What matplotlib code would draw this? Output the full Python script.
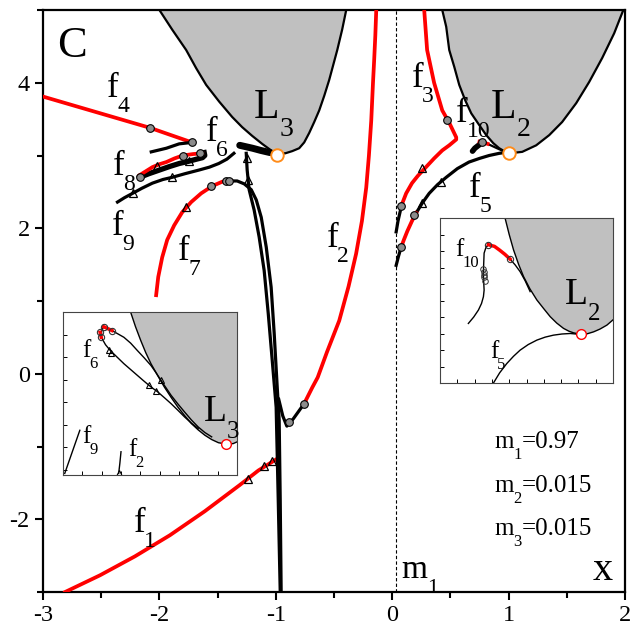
import numpy as np
import matplotlib
matplotlib.use("Agg")
import matplotlib.pyplot as plt

plt.rcParams['font.family'] = ['Liberation Serif', 'DejaVu Serif']
plt.rcParams['axes.unicode_minus'] = False

RED = '#ff0000'
GRAY = '#c0c0c0'
ORANGE = '#ff8c1a'

# ---------- forbidden regions (boundary) ----------
zvc3_x = [-2.00, -1.89, -1.77, -1.684, -1.598, -1.486, -1.375, -1.289, -1.203, -1.117, -1.04, -0.988,
          -0.919, -0.859, -0.799, -0.756, -0.713, -0.67, -0.627, -0.584, -0.541, -0.472, -0.43, -0.395]
zvc3_y = [5.00, 4.73, 4.45, 4.20, 3.97, 3.74, 3.53, 3.39, 3.27, 3.16, 3.07, 3.03,
          3.03, 3.06, 3.10, 3.18, 3.31, 3.46, 3.62, 3.82, 4.04, 4.45, 4.73, 5.00]
zvc2_x = [0.43, 0.464, 0.49, 0.533, 0.576, 0.627, 0.679, 0.747, 0.808, 0.868, 0.919, 0.962, 1.005,
          1.117, 1.237, 1.349, 1.46, 1.581, 1.692, 1.804, 1.907, 1.993]
zvc2_y = [5.00, 4.77, 4.45, 4.22, 3.97, 3.76, 3.58, 3.42, 3.28, 3.17, 3.10, 3.06, 3.03,
          3.05, 3.14, 3.28, 3.46, 3.72, 4.01, 4.34, 4.68, 5.03]
L3 = (-0.99, 3.01)
L2 = (1.005, 3.03)
m1_x = 0.03

# ---------- families ----------
f1_x = [-2.81, -2.51, -2.21, -1.91, -1.61, -1.31, -1.15, -1.00]
f1_y = [-3.00, -2.77, -2.51, -2.22, -1.89, -1.53, -1.33, -1.18]
f1_tri = ([-1.24, -1.10, -1.03], [-1.45, -1.27, -1.20])

f2_x = [-0.137, -0.145, -0.155, -0.165, -0.18, -0.20, -0.223, -0.26, -0.31, -0.375, -0.455, -0.56, -0.64, -0.687, -0.756]
f2_y = [5.00, 4.65, 4.31, 4.00, 3.48, 3.00, 2.56, 2.10, 1.65, 1.20, 0.73, 0.30, -0.05, -0.19, -0.41]
f2b_x = [-0.756, -0.85, -0.905, -0.94, -0.975]
f2b_y = [-0.41, -0.62, -0.72, -0.58, -0.35]
f2_dot = ([-0.756, -0.885], [-0.41, -0.66])

f3_x = [0.275, 0.30, 0.36, 0.43, 0.49, 0.55, 0.55, 0.49, 0.43, 0.36, 0.29, 0.22, 0.17, 0.12, 0.086, 0.077]
f3_y = [5.00, 4.45, 4.00, 3.62, 3.45, 3.25, 3.22, 3.14, 3.07, 2.96, 2.84, 2.72, 2.62, 2.48, 2.34, 2.29]
f3b_x = [0.077, 0.05, 0.034]
f3b_y = [2.29, 2.10, 1.95]
f3_dot = ([0.47, 0.077], [3.49, 2.30])
f3_tri = ([0.26], [2.83])

f4_x = [-3.00, -2.08, -1.72]
f4_y = [3.81, 3.38, 3.18]
f4_dot = ([-2.08, -1.72], [3.38, 3.18])

f5_x = [1.005, 0.92, 0.833, 0.75, 0.66, 0.56, 0.464, 0.39, 0.318, 0.26, 0.206]
f5_y = [3.05, 3.03, 3.00, 2.96, 2.91, 2.82, 2.70, 2.60, 2.48, 2.35, 2.21]
f5r_x = [0.206, 0.17, 0.13, 0.10, 0.077]
f5r_y = [2.21, 2.10, 1.96, 1.84, 1.74]
f5b_x = [0.077, 0.055, 0.034]
f5b_y = [1.74, 1.62, 1.49]
f5_dot = ([0.19, 0.077], [2.18, 1.74])
f5_tri = ([0.42, 0.26], [2.64, 2.35])

f6_x = [-2.07, -1.94, -1.83, -1.72]
f6_y = [3.05, 3.10, 3.16, 3.18]
f6n_x = [-1.31, -1.20, -1.13, -1.05]
f6n_y = [3.14, 3.10, 3.07, 3.04]

f7_x = [-2.028, -2.01, -1.976, -1.933, -1.873, -1.804, -1.727, -1.641, -1.546, -1.46, -1.383]
f7_y = [1.08, 1.33, 1.60, 1.84, 2.04, 2.22, 2.36, 2.48, 2.58, 2.64, 2.65]
f7_dot = ([-1.56, -1.43, -1.40], [2.58, 2.645, 2.65])
f7_tri = ([-1.77], [2.29])
# black continuation of f7 and the branch leaving L3
f7b_x = [-1.383, -1.332, -1.271, -1.211, -1.168, -1.125, -1.082, -1.04, -1.014, -0.988, -0.971, -0.962, -0.954]
f7b_y = [2.65, 2.65, 2.61, 2.53, 2.39, 2.15, 1.74, 1.19, 0.56, -0.18, -0.64, -1.74, -3.00]
br_x = [-1.254, -1.246, -1.229, -1.186, -1.143, -1.10, -1.065, -1.031, -0.997, -0.979, -0.962]
br_y = [3.03, 2.80, 2.53, 2.25, 1.88, 1.42, 0.83, 0.19, -0.46, -1.74, -3.00]
br_tri = ([-1.25, -1.235], [2.96, 2.66])

f8_x = [-2.17, -2.11, -2.06, -2.00, -1.94, -1.87, -1.80, -1.71, -1.63]
f8_y = [2.73, 2.79, 2.84, 2.88, 2.91, 2.96, 3.00, 3.02, 3.03]
f8b_x = [-2.17, -2.09, -2.00, -1.91, -1.83, -1.75, -1.68, -1.63, -1.61, -1.615]
f8b_y = [2.70, 2.75, 2.80, 2.85, 2.89, 2.92, 2.95, 2.97, 3.00, 3.04]
f8_dot = ([-2.17, -1.65, -1.80], [2.71, 3.03, 3.00])
f8_tri = ([-2.02, -1.75], [2.86, 2.92])

f9_x = [-2.36, -2.30, -2.23, -2.15, -2.06, -1.97, -1.89, -1.78, -1.66, -1.57, -1.49, -1.42, -1.36]
f9_y = [2.36, 2.42, 2.48, 2.55, 2.62, 2.67, 2.70, 2.75, 2.80, 2.84, 2.89, 2.95, 3.03]
f9_tri = ([-2.23, -1.89], [2.48, 2.70])

f10_x = [0.75, 0.78, 0.82]
f10_y = [3.19, 3.18, 3.16]
f10b_x = [0.75, 0.71, 0.69]
f10b_y = [3.15, 3.10, 3.06]
f10t_x = [0.82, 0.90, 0.97]
f10t_y = [3.16, 3.10, 3.05]
f10_dot = ([0.77], [3.18])

# ---------- inset 1 (around L3), arbitrary units ----------
a_zvc_x = [3.50, 3.75, 4.02, 4.28, 4.55, 4.90, 5.24, 5.59, 5.94, 6.29, 6.64, 6.99, 7.34, 7.69, 8.04, 8.44, 8.80, 9.09]
a_zvc_y = [6.99, 6.35, 5.74, 5.20, 4.71, 4.18, 3.68, 3.22, 2.79, 2.41, 2.06, 1.78, 1.54, 1.35, 1.21, 1.15, 1.17, 1.28]
a_out_x = [2.10, 2.30, 2.53, 2.80, 3.15, 3.50, 3.85, 4.20, 4.55, 4.82, 5.07, 5.33, 5.59, 5.94, 6.29, 6.64, 6.99, 7.34, 7.69]
a_out_y = [6.35, 6.28, 6.18, 6.05, 5.88, 5.62, 5.29, 4.97, 4.63, 4.30, 3.97, 3.64, 3.31, 2.93, 2.57, 2.22, 1.91, 1.66, 1.47]
a_in_x = [2.10, 2.00, 1.98, 2.20, 2.45, 2.80, 3.15, 3.50, 3.85, 4.20, 4.55, 4.90, 5.25, 5.59, 5.94, 6.29, 6.64, 6.99]
a_in_y = [6.35, 6.15, 5.88, 5.55, 5.29, 5.00, 4.71, 4.45, 4.19, 3.93, 3.68, 3.46, 3.20, 2.94, 2.65, 2.35, 2.08, 1.84]
a_red_x = [2.10, 2.35, 2.53]
a_red_y = [6.35, 6.25, 6.18]
a_red2_x = [1.92, 1.98]
a_red2_y = [6.10, 5.88]
a_dot = ([2.10, 2.53, 1.92, 1.98], [6.35, 6.18, 6.10, 5.88])
a_tri = ([2.40, 2.50, 4.45, 4.80, 5.07], [5.33, 5.20, 3.76, 3.50, 3.97])
a_f9_x = [0.09, 0.87]
a_f9_y = [-0.15, 1.76]
a_f2_x = [2.88, 2.94, 3.00]
a_f2_y = [-0.15, 0.29, 0.81]
a_L3 = (8.44, 1.15)

# ---------- inset 2 (around L2), arbitrary units ----------
b_zvc_x = [3.76, 4.00, 4.25, 4.54, 4.83, 5.20, 5.60, 6.00, 6.37, 6.75, 7.14, 7.45, 7.72, 8.17, 8.50, 8.88, 9.25, 9.65, 10.3]
b_zvc_y = [10.0, 9.00, 8.07, 7.20, 6.45, 5.70, 5.03, 4.50, 4.02, 3.63, 3.31, 3.14, 3.04, 2.94, 2.98, 3.10, 3.27, 3.51, 4.10]
b_f5_x = [3.09, 3.45, 3.86, 4.25, 4.63, 5.10, 5.60, 6.08, 6.56, 7.05, 7.53, 8.17]
b_f5_y = [0.00, 0.62, 1.18, 1.62, 1.99, 2.33, 2.60, 2.78, 2.90, 2.97, 3.00, 2.94]
b_f10_x = [1.64, 1.95, 2.22, 2.40, 2.51, 2.55, 2.53, 2.51, 2.52, 2.55, 2.65, 2.80]
b_f10_y = [3.61, 4.00, 4.42, 4.82, 5.23, 5.63, 6.04, 6.55, 7.06, 7.87, 8.20, 8.38]
b_red_x = [2.80, 3.15, 3.45, 3.75, 4.05]
b_red_y = [8.38, 8.28, 8.05, 7.80, 7.51]
b_tail_x = [4.05, 4.35, 4.63, 4.92, 5.21]
b_tail_y = [7.51, 7.15, 6.75, 6.20, 5.54]
b_dot = ([2.80, 4.05], [8.38, 7.51])
b_stack = ([2.51, 2.53, 2.55, 2.57, 2.60], [6.90, 6.70, 6.55, 6.40, 6.20])
b_L2 = (8.17, 2.94)


def label(ax, x, y, main, sub, size, subsize, dx=0, rest=None, **kw):
    t = ax.text(x, y, main, fontsize=size, va='baseline', ha='left', zorder=6, **kw)
    s = ax.annotate(sub, xy=(1, y), xycoords=(t, 'data'), xytext=(dx, -0.43 * size),
                    textcoords='offset points', fontsize=subsize, va='baseline', ha='left', zorder=6)
    if rest:
        ax.annotate(rest, xy=(1, y), xycoords=(s, 'data'), xytext=(0, 0),
                    textcoords='offset points', fontsize=size, va='baseline', ha='left', zorder=6)


def marks(ax, pts, kind, ms=5.5):
    if kind == 'o':
        ax.plot(pts[0], pts[1], 'o', ms=ms, mfc='#8c8c8c', mec='black', mew=0.8, zorder=5)
    else:
        ax.plot(pts[0], pts[1], '^', ms=ms, mfc='none', mec='black', mew=0.9, zorder=5)


fig = plt.figure(figsize=(6.3, 6.36), dpi=100)
ax = fig.add_axes([43 / 630, 44 / 636, 582 / 630, 582 / 636])
ax.set_xlim(-3, 2)
ax.set_ylim(-3, 5)

for bx, by in [(zvc3_x, zvc3_y), (zvc2_x, zvc2_y)]:
    ax.fill(bx, by, color=GRAY, lw=0, zorder=1)
    ax.plot(bx, by, color='black', lw=1.6, zorder=2)
ax.axvline(m1_x, color='black', lw=0.8, ls=(0, (3, 2)), zorder=1)

lw_r, lw_k = 2.7, 2.3
ax.plot(f1_x, f1_y, color=RED, lw=lw_r, zorder=3)
ax.plot(f2_x, f2_y, color=RED, lw=lw_r, zorder=3)
ax.plot(f2b_x, f2b_y, color='black', lw=lw_k, zorder=3)
ax.plot(f3_x, f3_y, color=RED, lw=lw_r, zorder=3)
ax.plot(f3b_x, f3b_y, color='black', lw=lw_k, zorder=3)
ax.plot(f4_x, f4_y, color=RED, lw=lw_r, zorder=3)
ax.plot(f5_x, f5_y, color='black', lw=lw_k, zorder=3)
ax.plot(f5r_x, f5r_y, color=RED, lw=lw_r, zorder=3)
ax.plot(f5b_x, f5b_y, color='black', lw=lw_k, zorder=3)
ax.plot(f6_x, f6_y, color='black', lw=lw_k, zorder=3)
ax.plot(f6n_x, f6n_y, color='black', lw=5, solid_capstyle='round', zorder=3)
ax.plot(f7b_x, f7b_y, color='black', lw=lw_k, zorder=3)
ax.plot(br_x, br_y, color='black', lw=lw_k, zorder=3)
ax.plot(f7_x, f7_y, color=RED, lw=lw_r, zorder=3)
ax.plot(f8b_x, f8b_y, color='black', lw=lw_k + 1.5, zorder=3)
ax.plot(f8_x, f8_y, color=RED, lw=lw_r, zorder=3)
ax.plot(f9_x, f9_y, color='black', lw=lw_k, zorder=3)
ax.plot(f10t_x, f10t_y, color='black', lw=1.6, zorder=3)
ax.plot(f10b_x, f10b_y, color='black', lw=4, solid_capstyle='round', zorder=3)
ax.plot(f10_x, f10_y, color=RED, lw=lw_r, zorder=3)

for p in [f2_dot, f3_dot, f4_dot, f5_dot, f7_dot, f8_dot, f10_dot]:
    marks(ax, p, 'o')
for p in [f1_tri, f3_tri, f5_tri, f7_tri, f8_tri, f9_tri, br_tri]:
    marks(ax, p, '^')

for p in [L3, L2]:
    ax.plot(*p, 'o', ms=9, mfc='white', mec=ORANGE, mew=1.4, zorder=6)

# labels
ax.text(-2.88, 4.35, 'C', fontsize=32, va='baseline', zorder=6)
label(ax, -1.19, 3.51, 'L', '3', 30, 20)
label(ax, 0.85, 3.51, 'L', '2', 30, 20)
label(ax, -2.22, -2.17, 'f', '1', 25, 17, dx=-1)
label(ax, -0.56, 1.74, 'f', '2', 25, 17, dx=-1)
label(ax, 0.17, 3.94, 'f', '3', 25, 17, dx=-1)
label(ax, -2.45, 3.80, 'f', '4', 25, 17, dx=-1)
label(ax, 0.66, 2.43, 'f', '5', 25, 17, dx=-1)
label(ax, -1.60, 3.20, 'f', '6', 25, 17, dx=-1)
label(ax, -1.84, 1.56, 'f', '7', 25, 17, dx=-1)
label(ax, -2.40, 2.73, 'f', '8', 25, 17, dx=-1)
label(ax, -2.41, 1.91, 'f', '9', 25, 17, dx=-1)
label(ax, 0.55, 3.46, 'f', '10', 25, 17, dx=-1)
label(ax, 0.077, -2.81, 'm', '1', 24, 16)
ax.text(1.72, -2.84, 'x', fontsize=29, va='baseline', zorder=6)
label(ax, 0.876, -1.02, 'm', '1', 18, 12, rest='=0.97')
label(ax, 0.876, -1.63, 'm', '2', 18, 12, rest='=0.015')
label(ax, 0.876, -2.22, 'm', '3', 18, 12, rest='=0.015')

ax.set_xticks(np.arange(-3, 2.1, 1))
ax.set_xticks(np.arange(-3, 2.1, 0.5), minor=True)
ax.set_yticks([-2, 0, 2, 4])
ax.set_yticks(np.arange(-3, 5.1, 1), minor=True)
ax.tick_params(which='both', direction='out', width=1.5, labelsize=17.5, top=False, right=False)
ax.tick_params(which='major', length=6)
ax.tick_params(which='minor', length=4)
for s in ax.spines.values():
    s.set_linewidth(1.6)

# ---------- inset 1 ----------
ia = fig.add_axes([63 / 630, (636 - 475) / 636, 174 / 630, 163 / 636], zorder=4)
ia.set_xlim(0, 9)
ia.set_ylim(-0.22, 7.0)
ia.fill(a_zvc_x + [9.2, 9.2], a_zvc_y + [7.2, 7.2], color=GRAY, lw=0)
ia.plot(a_zvc_x, a_zvc_y, color='black', lw=1.0)
ia.plot(a_out_x, a_out_y, color='black', lw=1.0)
ia.plot(a_in_x, a_in_y, color='black', lw=1.0)
ia.plot(a_red_x, a_red_y, color=RED, lw=2.5)
ia.plot(a_red2_x, a_red2_y, color=RED, lw=2.5)
ia.plot(a_f9_x, a_f9_y, color='black', lw=1.0)
ia.plot(a_f2_x, a_f2_y, color='black', lw=1.0)
ia.plot(a_dot[0], a_dot[1], 'o', ms=4.5, mfc='none', mec='#333333', mew=0.8)
ia.plot(a_tri[0], a_tri[1], '^', ms=5, mfc='none', mec='black', mew=0.8)
ia.plot([2.88], [-0.12], '^', ms=4, mfc='none', mec='black', mew=0.8)
ia.plot(*a_L3, 'o', ms=7, mfc='white', mec=RED, mew=1.0)
label(ia, 1.0, 5.0, 'f', '6', 18, 12, dx=-1)
label(ia, 7.3, 2.15, 'L', '3', 27, 18)
label(ia, 1.0, 1.18, 'f', '9', 18, 12, dx=-1)
label(ia, 3.35, 0.6, 'f', '2', 18, 12, dx=-1)
ia.set_xticks(np.arange(0, 9.1, 1))
ia.set_yticks(np.arange(0, 7.1, 1))
ia.tick_params(direction='in', length=3, width=0.7, labelbottom=False, labelleft=False)
for s in ia.spines.values():
    s.set_linewidth(0.8)
    s.set_color('#444444')

# ---------- inset 2 ----------
ib = fig.add_axes([440 / 630, (636 - 383) / 636, 173 / 630, 165 / 636], zorder=4)
ib.set_xlim(0, 10)
ib.set_ylim(0, 10)
ib.fill(b_zvc_x + [10.5, 10.5], b_zvc_y + [10.5, 10.5], color=GRAY, lw=0)
ib.plot(b_zvc_x, b_zvc_y, color='black', lw=1.0)
ib.plot(b_f5_x, b_f5_y, color='black', lw=1.0)
ib.plot(b_f10_x, b_f10_y, color='black', lw=1.0)
ib.plot(b_tail_x, b_tail_y, color='black', lw=1.0)
ib.plot(b_red_x, b_red_y, color=RED, lw=2.5)
ib.plot(b_dot[0], b_dot[1], 'o', ms=4.5, mfc='none', mec='#333333', mew=0.8)
ib.plot(b_stack[0], b_stack[1], 'o', ms=4, mfc='none', mec='#333333', mew=0.7)
ib.plot(*b_L2, 'o', ms=7, mfc='white', mec=RED, mew=1.0)
label(ib, 0.9, 7.7, 'f', '10', 18, 12, dx=-1)
label(ib, 7.2, 4.8, 'L', '2', 27, 18)
label(ib, 2.9, 1.5, 'f', '5', 18, 12, dx=-1)
ib.set_xticks(np.arange(0, 10.1, 1))
ib.set_yticks(np.arange(0, 10.1, 1))
ib.tick_params(direction='in', length=3, width=0.7, labelbottom=False, labelleft=False)
for s in ib.spines.values():
    s.set_linewidth(0.8)
    s.set_color('#444444')

fig.savefig('out.png', dpi=100)
